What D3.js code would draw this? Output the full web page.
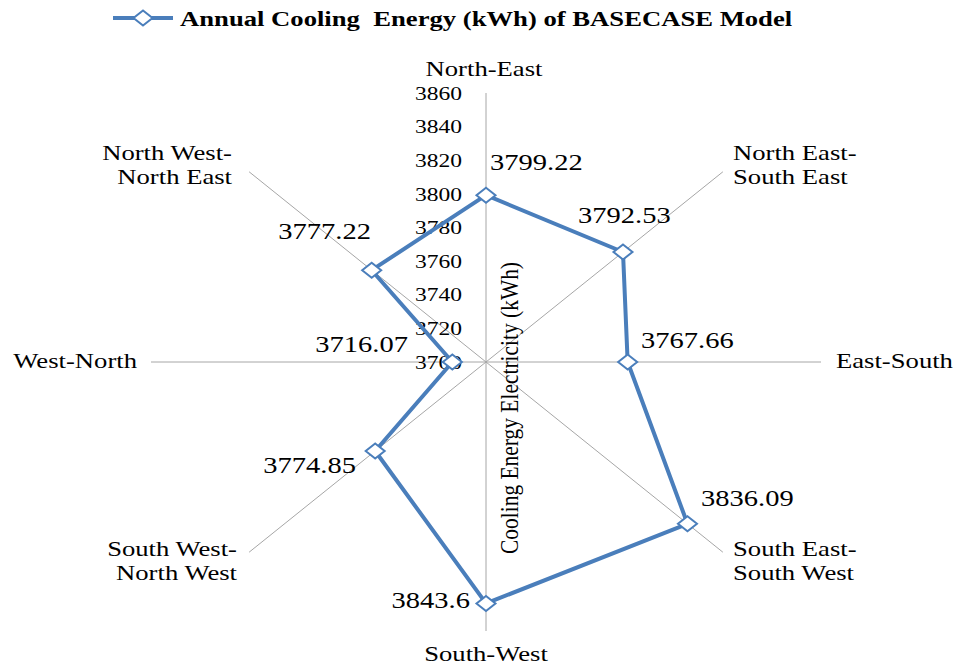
<!DOCTYPE html>
<html><head><meta charset="utf-8">
<script src="https://cdn.jsdelivr.net/npm/d3@7"></script>
<style>body{margin:0;background:#fff}svg{display:block}</style>
</head><body>
<svg id="c" width="956" height="665" font-family="Liberation Serif"></svg>
<script>
const categories = [["North-East"],["North East-","South East"],["East-South"],["South East-","South West"],["South-West"],["South West-","North West"],["West-North"],["North West-","North East"]];
const values = [3799.22, 3792.53, 3767.66, 3836.09, 3843.6, 3774.85, 3716.07, 3777.22];
const valueLabels = ["3799.22","3792.53","3767.66","3836.09","3843.6","3774.85","3716.07","3777.22"];
const ticks = [3700,3720,3740,3760,3780,3800,3820,3840,3860];
const seriesName = "Annual Cooling\u00a0 Energy (kWh) of BASECASE Model";
const axisTitle = "Cooling Energy Electricity (kWh)";

const svg = d3.select("#c");
const cx = 486, cy = 362, Ry = 269, Rx = 335, SX = 1.24;
const r = d3.scaleLinear().domain([3700,3860]).range([0,1]);
const ang = d3.scaleLinear().domain([0, categories.length]).range([0, 2*Math.PI]);
const pt = (i, v) => { const a = ang(i), k = r(v); return [cx + Math.sin(a)*k*Rx, cy - Math.cos(a)*k*Ry]; };
const blue = "#4a7ebb";
const stretched = (sel, x, y) => sel.attr("transform", `translate(${x},${y}) scale(${SX},1)`);

// spokes
svg.append("g").selectAll("line").data(categories).join("line")
  .attr("x1", cx).attr("y1", cy)
  .attr("x2", (d,i)=>pt(i,3860)[0]).attr("y2", (d,i)=>pt(i,3860)[1])
  .attr("stroke", "#a6a6a6").attr("stroke-width", 1);

// tick labels
svg.append("g").selectAll("text").data(ticks).join("text")
  .each(function(d){ stretched(d3.select(this), 462, cy - r(d)*Ry); })
  .attr("dy","0.35em").attr("text-anchor","end").attr("font-size", 19).text(d=>d);

// axis title
svg.append("text").attr("transform", `translate(518,408) rotate(-90) scale(1,${SX})`)
  .attr("text-anchor","middle").attr("font-size", 20).attr("textLength", 292).attr("lengthAdjust","spacingAndGlyphs").text(axisTitle);

// category labels
const catPos = [
  {x:484, y:76, a:"middle"},
  {x:733, y:160, a:"start"},
  {x:836, y:368, a:"start"},
  {x:733, y:556, a:"start"},
  {x:486, y:661, a:"middle"},
  {x:237, y:556, a:"end"},
  {x:137, y:368, a:"end"},
  {x:232, y:160, a:"end"}
];
const cg = svg.append("g");
categories.forEach((c,i)=>{
  c.forEach((line,j)=>{
    const t = cg.append("text").attr("text-anchor", catPos[i].a).attr("font-size", 21.5).text(line);
    stretched(t, catPos[i].x, catPos[i].y + j*24);
  });
});

// line
const line = d3.line().curve(d3.curveLinearClosed);
svg.append("path").attr("d", line(values.map((v,i)=>pt(i,v))))
  .attr("fill","none").attr("stroke", blue).attr("stroke-width", 4).attr("stroke-linejoin","round");

// markers
const diamond = "M0,-7.5L9.5,0L0,7.5L-9.5,0Z";
svg.append("g").selectAll("path").data(values).join("path")
  .attr("transform",(d,i)=>`translate(${pt(i,d)[0]},${pt(i,d)[1]})`)
  .attr("d",diamond)
  .attr("fill","#fff").attr("stroke", blue).attr("stroke-width", 2);

// data labels
const lblPos = [[490,170,"start"],[578,223,"start"],[641,348,"start"],[701,506,"start"],[470,608,"end"],[356,473,"end"],[408,352,"end"],[371,239,"end"]];
svg.append("g").selectAll("text").data(valueLabels).join("text")
  .each(function(d,i){ stretched(d3.select(this), lblPos[i][0], lblPos[i][1]); })
  .attr("text-anchor",(d,i)=>lblPos[i][2])
  .attr("font-size", 23).text(d=>d);

// legend
const lg = svg.append("g");
lg.append("line").attr("x1",113).attr("x2",173).attr("y1",18).attr("y2",18).attr("stroke",blue).attr("stroke-width",4);
lg.append("path").attr("transform","translate(143,18)").attr("d",diamond).attr("fill","#fff").attr("stroke",blue).attr("stroke-width",2);
stretched(lg.append("text"), 180, 26).attr("font-size",21.5).attr("font-weight","bold").text(seriesName);
</script>
</body></html>
